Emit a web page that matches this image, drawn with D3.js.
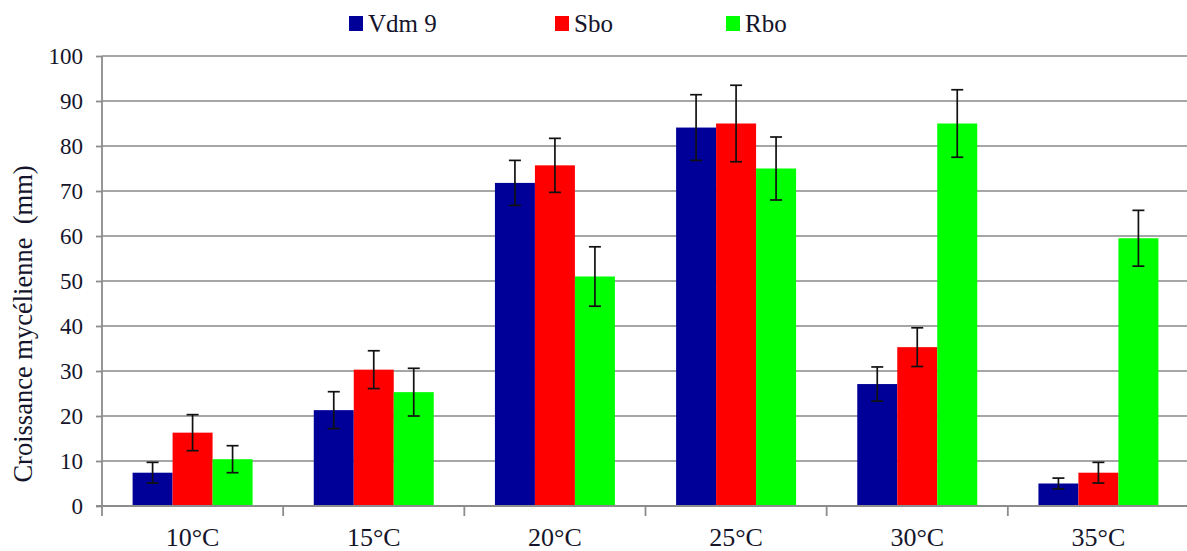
<!DOCTYPE html>
<html>
<head>
<meta charset="utf-8">
<script src="https://cdn.jsdelivr.net/npm/d3@7"></script>
<style>
  body { margin: 0; background: #fff; }
  svg text { font-family: "Liberation Serif", "Times New Roman", serif !important; fill: #14142a; }
</style>
</head>
<body>
<div id="container"></div>
<script>
/* CONSTANTS AND GLOBALS */
const width = 1187, height = 551;
const margin = { top: 56, right: -2, bottom: 45, left: 102 };
const serif = "'Liberation Serif', 'Times New Roman', serif";

/* DATA */
const categories = ["10°C", "15°C", "20°C", "25°C", "30°C", "35°C"];
const series = ["Vdm 9", "Sbo", "Rbo"];
const colors = ["#000099", "#ff0000", "#00ff00"];
// mean growth per series, one value per temperature
const vdm9 = [7.4, 21.3, 71.8, 84.1, 27.1, 5.0];
const sbo  = [16.3, 30.3, 75.7, 85.0, 35.3, 7.4];
const rbo  = [10.4, 25.3, 51.0, 75.0, 85.0, 59.5];
// error bar half-widths
const vdm9Err = [2.3, 4.1, 5.0, 7.3, 3.8, 1.2];
const sboErr  = [4.0, 4.2, 6.0, 8.5, 4.3, 2.3];
const rboErr  = [3.0, 5.3, 6.6, 7.0, 7.5, 6.2];
const yTicks = [0, 10, 20, 30, 40, 50, 60, 70, 80, 90, 100];

const values = [vdm9, sbo, rbo];
const errors = [vdm9Err, sboErr, rboErr];
const rows = [];
categories.forEach((c, i) => {
  series.forEach((s, j) => {
    rows.push({ cat: c, series: s, idx: j, value: values[j][i], err: errors[j][i] });
  });
});

/* SCALES */
const xScale = d3.scaleBand()
  .domain(categories)
  .range([margin.left, width - margin.right])
  .padding(0);

const xSub = d3.scaleBand()
  .domain(series)
  .range([0, xScale.bandwidth()])
  .paddingInner(0)
  .paddingOuter(0.765);

const yScale = d3.scaleLinear()
  .domain([0, 100])
  .range([height - margin.bottom, margin.top]);

const svg = d3.select("#container").append("svg")
  .attr("width", width)
  .attr("height", height)
  .attr("font-family", serif);

/* GRID */
svg.append("g")
  .selectAll("line")
  .data(yTicks.filter(d => d > 0))
  .join("line")
  .attr("x1", margin.left)
  .attr("x2", width)
  .attr("y1", d => yScale(d))
  .attr("y2", d => yScale(d))
  .attr("stroke", "#a6a6a6")
  .attr("stroke-width", 1.8);

/* BARS */
svg.append("g")
  .selectAll("rect")
  .data(rows)
  .join("rect")
  .attr("x", d => xScale(d.cat) + xSub(d.series))
  .attr("y", d => yScale(d.value))
  .attr("width", xSub.bandwidth())
  .attr("height", d => yScale(0) - yScale(d.value))
  .attr("fill", d => colors[d.idx]);

/* ERROR BARS */
const eb = svg.append("g").attr("stroke", "#111").attr("stroke-width", 1.7);
const cx = d => xScale(d.cat) + xSub(d.series) + xSub.bandwidth() / 2;
eb.selectAll("line.v").data(rows).join("line").attr("class", "v")
  .attr("x1", cx).attr("x2", cx)
  .attr("y1", d => yScale(d.value + d.err))
  .attr("y2", d => yScale(d.value - d.err));
eb.selectAll("line.t").data(rows).join("line").attr("class", "t")
  .attr("x1", d => cx(d) - 6).attr("x2", d => cx(d) + 6)
  .attr("y1", d => yScale(d.value + d.err))
  .attr("y2", d => yScale(d.value + d.err));
eb.selectAll("line.b").data(rows).join("line").attr("class", "b")
  .attr("x1", d => cx(d) - 6).attr("x2", d => cx(d) + 6)
  .attr("y1", d => yScale(d.value - d.err))
  .attr("y2", d => yScale(d.value - d.err));

/* AXES */
const yAxis = d3.axisLeft(yScale).tickValues(yTicks).tickSize(6).tickPadding(13);
const gy = svg.append("g")
  .attr("transform", `translate(${margin.left},0)`)
  .call(yAxis)
  .attr("font-family", serif)
  .attr("font-size", 23);
gy.select(".domain").attr("stroke", "#8c8c8c").attr("stroke-width", 1.8)
  .attr("d", `M0,${yScale(0)}V${yScale(100)}`);
gy.selectAll(".tick line").attr("stroke", "#8c8c8c").attr("stroke-width", 1.8);
gy.selectAll(".tick text")
  .style("font-family", serif)
  .style("font-size", "23px")
  .attr("fill", "#14142a");

// x axis baseline and category separators
const gx = svg.append("g");
gx.append("line")
  .attr("x1", margin.left - 6).attr("x2", width)
  .attr("y1", yScale(0)).attr("y2", yScale(0))
  .attr("stroke", "#8c8c8c").attr("stroke-width", 1.8);
gx.selectAll("line.sep")
  .data(categories)
  .join("line").attr("class", "sep")
  .attr("x1", d => xScale(d)).attr("x2", d => xScale(d))
  .attr("y1", yScale(0)).attr("y2", yScale(0) + 10)
  .attr("stroke", "#8c8c8c").attr("stroke-width", 1.8);
gx.selectAll("text")
  .data(categories)
  .join("text")
  .attr("x", d => xScale(d) + xScale.bandwidth() / 2)
  .attr("y", yScale(0) + 40)
  .attr("text-anchor", "middle")
  .style("font-size", "26px")
  .text(d => d);

// y axis title
svg.append("text")
  .attr("transform", "translate(32,324) rotate(-90)")
  .attr("text-anchor", "middle")
  .style("font-size", "26.5px")
  .style("white-space", "pre")
  .text("Croissance mycélienne  (mm)");

/* LEGEND */
const legendX = [349, 555, 726];
const legend = svg.append("g")
  .selectAll("g")
  .data(series)
  .join("g")
  .attr("transform", (d, i) => `translate(${legendX[i]},16)`);
legend.append("rect")
  .attr("width", 14).attr("height", 15)
  .attr("fill", (d, i) => colors[i]);
legend.append("text")
  .attr("x", 19).attr("y", 16)
  .style("font-size", "25px")
  .text(d => d);
</script>
</body>
</html>
